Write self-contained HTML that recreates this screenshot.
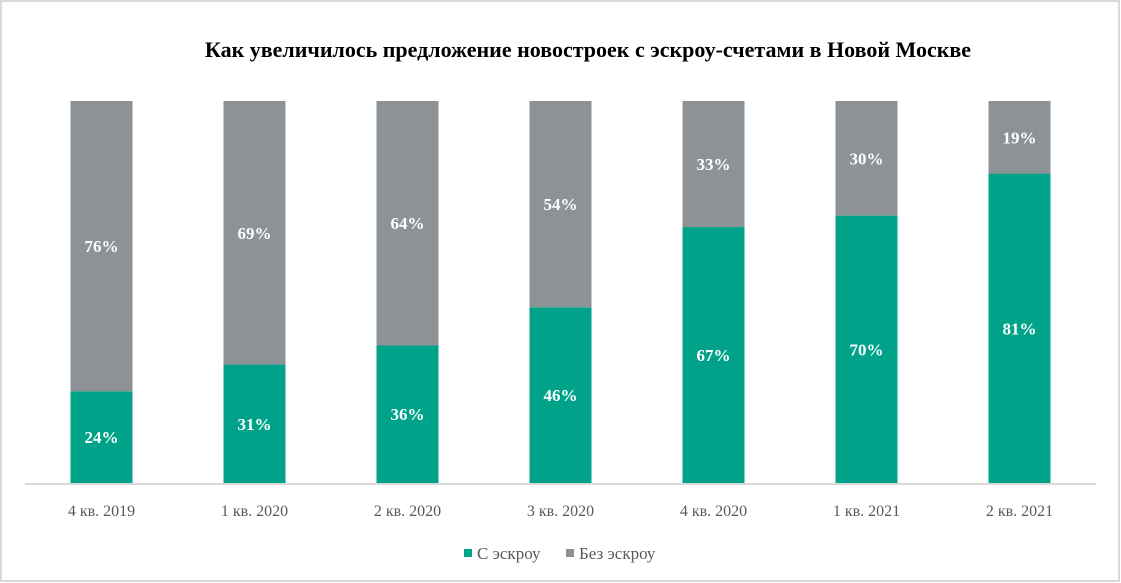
<!DOCTYPE html>
<html><head><meta charset="utf-8"><style>
body{margin:0;background:#fff;}
svg{display:block;font-family:"Liberation Serif",serif;}
</style></head><body>
<svg width="1121" height="583">
<rect x="1" y="1" width="1118" height="580" fill="#fff" stroke="#d9d9d9" stroke-width="2"/>
<text x="588" y="57" text-anchor="middle" font-size="22" font-weight="bold" fill="#000">Как увеличилось предложение новостроек с эскроу-счетами в Новой Москве</text>
<g id="bars"></g>
<line x1="25" y1="484" x2="1096" y2="484" stroke="#d9d9d9" stroke-width="2"/>
<g>
<rect x="464" y="549" width="8" height="8" fill="#00a389"/>
<text x="477" y="559" font-size="17" fill="#595959">С эскроу</text>
<rect x="566" y="549" width="8" height="8" fill="#8c9296"/>
<text x="579" y="559" font-size="17" fill="#595959">Без эскроу</text>
</g>
</svg>
<script>
const categories=["4 кв. 2019","1 кв. 2020","2 кв. 2020","3 кв. 2020","4 кв. 2020","1 кв. 2021","2 кв. 2021"];
const escrow=[24,31,36,46,67,70,81];
const noEscrow=[76,69,64,54,33,30,19];
const NS="http://www.w3.org/2000/svg";
const g=document.getElementById('bars');
const top0=101,base=483,plotH=base-top0;
const x0=25,step=153,bw=62;
const y=v=>base-v/100*plotH;
const cx=i=>x0+step*(i+0.5);
function mk(t,a){const e=document.createElementNS(NS,t);for(const k in a)e.setAttribute(k,a[k]);g.appendChild(e);return e;}
categories.forEach((c,i)=>{
 const x=cx(i)-bw/2;
 const ye=y(escrow[i]), yt=y(escrow[i]+noEscrow[i]);
 const r1=mk('rect',{x:x,y:ye,width:bw,height:base-ye,fill:'#00a389'});
 
 
 const r2=mk('rect',{x:x,y:yt,width:bw,height:ye-yt,fill:'#8c9296'});
 
 
 const t1=mk('text',{x:cx(i),y:(ye+base)/2+6,'text-anchor':'middle','font-size':17,'font-weight':'bold',fill:'#fff'});
 t1.textContent=escrow[i]+'%';
 
 
 const t2=mk('text',{x:cx(i),y:(yt+ye)/2+6,'text-anchor':'middle','font-size':17,'font-weight':'bold',fill:'#fff'});
 t2.textContent=noEscrow[i]+'%';
 
 
 const t3=mk('text',{x:cx(i),y:516,'text-anchor':'middle','font-size':16,fill:'#595959'});
 t3.textContent=c;
 
 
});
</script>
</body></html>
